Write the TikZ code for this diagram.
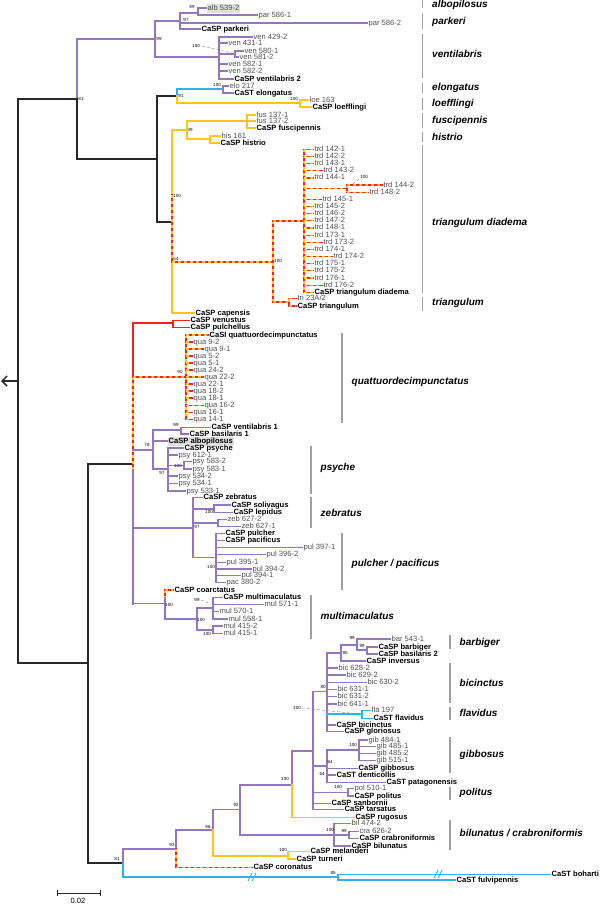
\documentclass[tikz,border=0pt]{standalone}
\usepackage{fontspec}
\setmainfont{Liberation Sans}
\usetikzlibrary{arrows.meta}
\definecolor{pu}{RGB}{148,118,188}
\definecolor{bl}{RGB}{40,180,240}
\definecolor{ye}{RGB}{255,196,30}
\definecolor{rd}{RGB}{250,30,30}
\definecolor{bk}{RGB}{40,40,40}
\definecolor{tg}{RGB}{80,80,80}
\definecolor{bar}{RGB}{160,160,160}
\tikzset{
 br/.style={line width=1.2pt, line cap=rect},
 P/.style={br, draw=pu}, B/.style={br, draw=bl}, Y/.style={br, draw=ye},
 R/.style={br, draw=rd}, K/.style={br, draw=bk, line width=1.5pt},
 D/.style={br, draw=rd, postaction={draw=ye, line cap=butt, dash pattern=on 3pt off 3pt}},
 tr/.style={font=\fontsize{7.6}{8}\selectfont, text=tg, inner sep=1pt, text height=5.5pt, text depth=1.5pt},
 tb/.style={font=\fontsize{7.6}{8}\selectfont\bfseries, text=black, inner sep=1pt, text height=5.5pt, text depth=1.5pt},
 sv/.style={font=\fontsize{4.5}{5}\selectfont, inner sep=0pt, text=black},
 cl/.style={font=\fontsize{10}{12}\selectfont\bfseries\itshape, anchor=west, inner sep=0pt},
 gb/.style={draw=bar, line width=1.8pt},
 lead/.style={draw=gray, densely dashed, line width=0.4pt},
}
\newcommand\TR[5]{\draw[#1] (#2,#4) -- (#3,#4) node[tr,anchor=west]{#5};}
\newcommand\TB[5]{\draw[#1] (#2,#4) -- (#3,#4) node[tb,anchor=west]{#5};}
\newcommand\SV[3]{\node[sv] at (#1,#2) {#3};}
\newcommand\CL[5]{\draw[gb] (#1,#2) -- (#1,#3); \node[cl] at (#1+9.5,#4) {#5};}
\begin{document}
\begin{tikzpicture}[x=1pt,y=-1pt]
\useasboundingbox (0,0) rectangle (600,905);
% ---------- backbone ----------
\draw[K] (18,99) -- (18,663);
\draw[K] (18,99) -- (77,99);
\draw[K] (18,663) -- (88,663);
\draw[K,-{Straight Barb[length=5pt,width=10pt]}] (18,381) -- (1,381);
\draw[P] (77,39) -- (77,99);
\draw[K] (77,99) -- (77,159);
\draw[P] (77,39) -- (155,39);
\SV{81}{99}{81}
\draw[K] (77,159) -- (157,159);
\draw[K] (157,96) -- (157,222);
\draw[K] (157,96) -- (177,96);
\draw[K] (157,222) -- (172,222);
% ---------- albopilosus / parkeri ----------
\draw[P] (155,21) -- (155,57);
\SV{159}{39}{99}
\draw[P] (155,21) -- (180,21);
\draw[P] (180,13) -- (180,29);
\SV{186}{20}{97}
\draw[P] (180,13) -- (198,13);
\draw[P] (198,8) -- (198,15);
\SV{192}{7}{99}
\draw[P] (198,8) -- (206,8) node[tr,anchor=west,fill=gray!25]{alb 539-2};
\TR{P}{198}{257}{15}{par 586-1}
\TR{P}{180}{367}{23}{par 586-2}
\TB{P}{180}{200}{29}{CaSP parkeri}
% ---------- ventilabris ----------
\draw[P] (155,57) -- (219,57);
\draw[P] (219,37) -- (219,79);
\TR{P}{219}{252}{37}{ven 429-2}
\TR{P}{219}{227}{43}{ven 431-1}
\draw[P] (219,54) -- (235,54);
\draw[P] (235,51) -- (235,57);
\TR{P}{235}{243}{51}{ven 580-1}
\TR{P}{235}{238}{57}{ven 581-2}
\TR{P}{219}{227}{64}{ven 582-1}
\TR{P}{219}{227}{71}{ven 582-2}
\TB{P}{219}{233}{79}{CaSP ventilabris 2}
\SV{196}{46}{100}
\draw[lead] (202,46) -- (232,53);
% ---------- elongatus / loefflingi ----------
\draw[B] (177,89) -- (177,96);
\draw[Y] (177,96) -- (177,103);
\draw[B] (177,89) -- (223,89);
\SV{181}{96}{91}
\draw[P] (223,86) -- (223,93);
\TR{P}{223}{228}{86}{elo 217}
\TB{P}{223}{233}{93}{CaST elongatus}
\SV{217}{85}{100}
\draw[Y] (177,103) -- (300,103);
\draw[Y] (300,100) -- (300,107);
\TR{Y}{300}{308}{100}{loe 163}
\TB{Y}{300}{311}{107}{CaSP loefflingi}
\SV{294}{99}{100}
% ---------- fuscipennis / histrio ----------
\draw[Y] (172,130) -- (172,195);
\draw[Y] (172,130) -- (187,130);
\SV{190}{130}{99}
\draw[Y] (187,121) -- (187,139);
\draw[Y] (187,121) -- (247,121);
\draw[Y] (247,115) -- (247,128);
\TR{Y}{247}{255}{115}{fus 137-1}
\TR{Y}{247}{255}{121}{fus 137-2}
\TB{Y}{247}{255}{128}{CaSP fuscipennis}
\draw[Y] (187,139) -- (210,139);
\draw[Y] (210,136) -- (210,143);
\TR{Y}{210}{220}{136}{his 161}
\TB{Y}{210}{219}{143}{CaSP histrio}
% ---------- triangulum ----------
\draw[D] (172,195) -- (172,262);
\draw[Y] (172,262) -- (172,313);
\SV{177}{196}{100}
\SV{176}{259}{54}
\draw[D] (172,262) -- (273,262);
\draw[D] (273,221) -- (273,302);
\SV{278}{261}{100}
\draw[D] (273,221) -- (304,221);
\draw[D] (304,149.3) -- (304,292.3);
\foreach \t/\y/\e in {142-1/149.3/313, 142-2/156.4/313, 143-1/163.6/313, 143-2/170.7/322, 144-1/177.9/313,
  145-1/199.3/321, 145-2/206.5/313, 146-2/213.6/313, 147-2/220.8/313, 148-1/227.9/313, 173-1/235.1/313,
  173-2/242.2/322, 174-1/249.4/313, 174-2/256.5/332, 175-1/263.7/313, 175-2/270.8/313, 176-1/278/313, 176-2/285.1/322}
  {\TR{D}{304}{\e}{\y}{trd \t}}
\TB{D}{304}{313}{292.3}{CaSP triangulum diadema}
\draw[D] (304,188.6) -- (347,188.6);
\draw[D] (347,185) -- (347,192.2);
\TR{D}{347}{382}{185}{trd 144-2}
\TR{D}{347}{368}{192.2}{trd 148-2}
\SV{364}{177}{100}
\draw[lead] (359,179) -- (350,186);
\draw[D] (273,302) -- (289,302);
\draw[D] (289,298.7) -- (289,306);
\TR{D}{289}{296}{298.7}{tri 23A/2}
\TB{D}{289}{296}{306}{CaSP triangulum}
\TB{Y}{172}{194}{313}{CaSP capensis}
% ---------- second clade ----------
\draw[K] (88,464) -- (88,863);
\draw[K] (88,464) -- (133,464);
\draw[K] (88,863) -- (123,863);
\draw[R] (133,323) -- (133,377);
\draw[D] (133,377) -- (133,470);
\draw[P] (133,470) -- (133,604);
\draw[R] (133,323) -- (173,323);
\draw[R] (173,320.7) -- (173,327.7);
\TB{R}{173}{189}{320.7}{CaSP venustus}
\TB{R}{173}{189}{327.7}{CaSP pulchellus}
% quattuordecimpunctatus
\draw[D] (133,377) -- (186,377);
\SV{180}{372}{90}
\draw[D] (186,335) -- (186,419.5);
\TB{D}{186}{208}{335}{CaSI quattuordecimpunctatus}
\foreach \t/\y/\e in {9-2/342/192, 9-1/349/203, 5-2/356/192, 5-1/363/192, 24-2/370/192, 22-2/377/203,
  22-1/384/192, 18-2/391/192, 18-1/398/192, 16-2/405.5/203, 16-1/412.5/192, 14-1/419.5/192}
  {\TR{D}{186}{\e}{\y}{qua \t}}
% psyche group
\draw[P] (133,450) -- (153,450);
\draw[P] (153,430) -- (153,469);
\SV{147}{445}{78}
\draw[P] (153,430) -- (181,430);
\draw[P] (181,427.3) -- (181,434);
\SV{176}{425}{99}
\TB{P}{181}{210}{427.3}{CaSP ventilabris 1}
\TB{P}{181}{188}{434}{CaSP basilaris 1}
\draw[P] (153,441) -- (167,441) node[tb,anchor=west,fill=gray!25]{CaSP albopilosus};
\draw[P] (153,469) -- (168,469);
\SV{162}{473}{97}
\draw[P] (168,448) -- (168,491);
\TB{P}{168}{183}{448}{CaSP psyche}
\TR{P}{168}{177}{455}{psy 612-1}
\draw[P] (168,465.3) -- (184,465.3);
\draw[P] (184,461.7) -- (184,469);
\SV{178}{466}{100}
\TR{P}{184}{191}{461.7}{psy 583-2}
\TR{P}{184}{191}{469}{psy 583-1}
\TR{P}{168}{177}{476}{psy 534-2}
\TR{P}{168}{177}{483.3}{psy 534-1}
\TR{P}{168}{185}{491}{psy 533-1}
% zebratus / pulcher
\draw[P] (133,528) -- (193,528);
\SV{197}{527}{97}
\draw[P] (193,497.7) -- (193,557.3);
\TB{P}{193}{202}{497.7}{CaSP zebratus}
\draw[P] (193,509) -- (214,509);
\draw[P] (214,505) -- (214,512.3);
\SV{209}{512}{100}
\TB{P}{214}{230}{505}{CaSP solivagus}
\TB{P}{214}{232}{512.3}{CaSP lepidus}
\draw[P] (193,523) -- (218,523);
\draw[P] (218,519.3) -- (218,526.7);
\TR{P}{218}{226}{519.3}{zeb 627-2}
\TR{P}{218}{240}{526.7}{zeb 627-1}
\draw[P] (193,557.3) -- (216,557.3);
\draw[P] (216,533.3) -- (216,582.7);
\TB{P}{216}{224}{533.3}{CaSP pulcher}
\TB{P}{216}{224}{540.7}{CaSP pacificus}
\TR{P}{216}{302}{547.3}{pul 397-1}
\TR{P}{216}{265}{554.3}{pul 396-2}
\TR{P}{216}{225}{562.3}{pul 395-1}
\TR{P}{216}{251}{569}{pul 394-2}
\TR{P}{216}{240}{575.7}{pul 394-1}
\TR{P}{216}{225}{582.7}{pac 380-2}
\SV{211}{567}{100}
% coarctatus / multimaculatus
\draw[P] (133,603.3) -- (165,603.3);
\draw[D] (165,590) -- (165,598);
\draw[P] (165,598) -- (165,619);
\SV{169}{605}{100}
\TB{D}{165}{173}{590}{CaSP coarctatus}
\draw[P] (165,619) -- (197,619);
\draw[P] (197,608) -- (197,630);
\SV{201}{620}{100}
\draw[P] (197,608) -- (213,608);
\draw[P] (213,597.3) -- (213,619);
\SV{197}{600}{99}
\draw[lead] (201,600) -- (211,604);
\TB{P}{213}{222}{597.3}{CaSP multimaculatus}
\TR{P}{213}{263}{604.3}{mul 571-1}
\TR{P}{213}{218}{611.7}{mul 570-1}
\TR{P}{213}{227}{619}{mul 558-1}
\draw[P] (197,630) -- (213,630);
\draw[P] (213,626) -- (213,633.3);
\SV{207}{634}{100}
\TR{P}{213}{222}{626}{mul 415-2}
\TR{P}{213}{222}{633.3}{mul 415-1}
% ---------- bottom clade ----------
\draw[P] (123,849) -- (123,863);
\draw[B] (123,863) -- (123,877);
\SV{117}{859}{81}
\draw[B] (123,877) -- (338,877);
\draw[B] (338,874.3) -- (338,880);
\SV{333}{873}{85}
\TB{B}{338}{550}{874.3}{CaST boharti}
\TB{B}{338}{455}{880}{CaST fulvipennis}
\draw[bl, line width=0.9pt] (248,881) -- (252,873) (252,881) -- (256,873);
\draw[bl, line width=0.9pt] (434,878) -- (438,870) (438,878) -- (442,870);
\draw[P] (123,849) -- (176,849);
\SV{172}{845}{93}
\draw[P] (176,830) -- (176,849);
\draw[D] (176,849) -- (176,867.3);
\TB{D}{176}{252}{867.3}{CaSP coronatus}
\draw[P] (176,830) -- (213,830);
\SV{208}{827}{96}
\draw[P] (213,809.3) -- (213,830);
\draw[Y] (213,830) -- (213,856);
\draw[Y] (213,856) -- (288,856);
\draw[Y] (288,851.7) -- (288,859);
\SV{283}{850}{100}
\TB{Y}{288}{309}{851.7}{CaSP melanderi}
\TB{Y}{288}{295}{859}{CaSP turneri}
\draw[P] (213,809.3) -- (240,809.3);
\SV{236}{805}{92}
\draw[P] (240,785) -- (240,835);
\draw[P] (240,835) -- (334,835);
\draw[P] (334,823.3) -- (334,846);
\SV{330}{830}{100}
\TR{P}{334}{350}{823.3}{bil 474-2}
\draw[P] (334,835) -- (349,835);
\draw[P] (349,831.7) -- (349,838.3);
\SV{344}{831}{99}
\TR{P}{349}{358}{831.7}{cra 626-2}
\TB{P}{349}{358}{838.3}{CaSP crabroniformis}
\TB{P}{334}{350}{846}{CaSP bilunatus}
\draw[P] (240,785) -- (292,785);
\SV{285}{779}{100}
\draw[P] (292,751) -- (292,785);
\draw[Y] (292,785) -- (292,817.3);
\TB{Y}{292}{354}{817.3}{CaSP rugosus}
\draw[P] (292,751) -- (313,751);
\draw[P] (313,691.7) -- (313,809.3);
\draw[P] (313,691.7) -- (327,691.7);
\SV{323}{687}{80}
\draw[P] (327,653) -- (327,731.7);
% barbiger
\draw[P] (327,653) -- (341,653);
\SV{345}{653}{95}
\draw[P] (341,645) -- (341,661);
\TB{P}{341}{365}{661}{CaSP inversus}
\draw[P] (341,645) -- (357,645);
\draw[P] (357,639) -- (357,650);
\SV{352}{638}{99}
\TR{P}{357}{390}{639}{bar 543-1}
\draw[P] (357,650) -- (367,650);
\draw[P] (367,647) -- (367,654);
\SV{362}{646}{99}
\TB{P}{367}{377}{647}{CaSP barbiger}
\TB{P}{367}{377}{654}{CaSP basilaris 2}
% bicinctus / flavidus
\TR{P}{327}{337}{668}{bic 628-2}
\TR{P}{327}{345}{675}{bic 629-2}
\TR{P}{327}{366}{682.7}{bic 630-2}
\TR{P}{327}{336}{689.3}{bic 631-1}
\TR{P}{327}{336}{696.7}{bic 631-2}
\TR{P}{327}{336}{704}{bic 641-1}
\draw[B] (327,714) -- (362,714);
\draw[B] (362,710.7) -- (362,718.3);
\TR{B}{362}{370}{710.7}{fla 197}
\TB{B}{362}{372}{718.3}{CaST flavidus}
\SV{297}{708}{100}
\draw[lead] (302,708) -- (350,713);
\TB{P}{327}{335}{725}{CaSP bicinctus}
\TB{P}{327}{343}{731.7}{CaSP gloriosus}
% gibbosus etc.
\draw[P] (313,766) -- (327,766);
\draw[P] (327,750) -- (327,782.3);
\draw[P] (327,750) -- (359,750);
\draw[P] (359,740) -- (359,760.7);
\SV{353}{745}{100}
\TR{P}{359}{367}{740}{gib 484-1}
\TR{P}{359}{375}{746.7}{gib 485-1}
\TR{P}{359}{375}{753.7}{gib 485-2}
\TR{P}{359}{375}{760.7}{gib 515-1}
\TB{P}{327}{357}{768.3}{CaSP gibbosus}
\SV{330}{762}{64}
\TB{P}{327}{335}{775}{CaST denticollis}
\SV{322}{774}{64}
\TB{P}{327}{385}{782.3}{CaST patagonensis}
\draw[P] (313,792.3) -- (348,792.3);
\draw[P] (348,788.3) -- (348,796);
\SV{338}{787}{100}
\TR{P}{348}{353}{788.3}{pol 510-1}
\TB{P}{348}{353}{796}{CaSP politus}
\TB{P}{313}{330}{803.3}{CaSP sanbornii}
\TB{P}{313}{343}{809.3}{CaSP tarsatus}
% ---------- clade labels ----------
\CL{422.5}{0}{8}{5}{albopilosus}
\CL{422.5}{13}{29}{22}{parkeri}
\CL{422.5}{34}{78}{54}{ventilabris}
\CL{422.5}{83}{93}{88}{elongatus}
\CL{422.5}{98}{110}{104}{loefflingi}
\CL{422.5}{113}{128}{121}{fuscipennis}
\CL{422.5}{132}{142}{137}{histrio}
\CL{422.5}{145}{293}{223}{triangulum diadema}
\CL{422.5}{297}{311}{303}{triangulum}
\CL{342}{333}{423}{381.7}{quattuordecimpunctatus}
\CL{311}{446}{494}{468}{psyche}
\CL{311}{497}{528}{513}{zebratus}
\CL{342}{533}{590}{564}{pulcher / pacificus}
\CL{311}{595}{639}{616}{multimaculatus}
\CL{450}{635}{649}{643}{barbiger}
\CL{450}{663}{703}{683}{bicinctus}
\CL{450}{707}{720}{713}{flavidus}
\CL{450}{737}{773}{755}{gibbosus}
\CL{450}{787}{800}{793}{politus}
\CL{450}{820}{850}{833}{bilunatus / crabroniformis}
% ---------- scale bar ----------
\draw[bk, line width=0.8pt] (57,893) -- (100,893) (57,890) -- (57,896) (100,890) -- (100,896);
\node[tr, text=black] (scale) at (78,901.5) {0.02};
\end{tikzpicture}
\end{document}
